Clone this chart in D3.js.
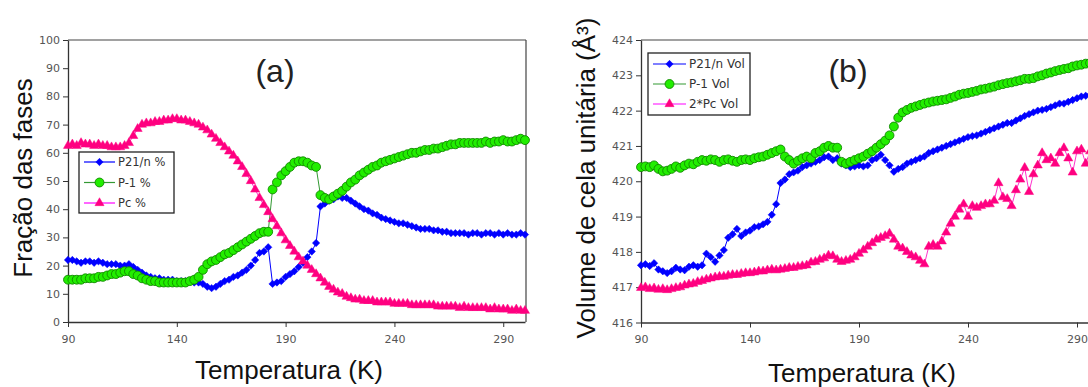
<!DOCTYPE html>
<html>
<head>
<meta charset="utf-8">
<script src="https://cdn.jsdelivr.net/npm/d3@7"></script>
<style>
  html, body { margin: 0; padding: 0; background: #fff; }
  svg { display: block; }
</style>
</head>
<body>
<div id="chart"></div>
<script>
// temperatures (K), shared by both panels
const temps = [
  90, 92, 94, 96, 98, 100, 102, 104, 106, 108,
  110, 112, 114, 116, 118, 120, 122, 124, 126, 128,
  130, 132, 134, 136, 138, 140, 142, 144, 146, 148,
  150, 152, 154, 156, 158, 160, 162, 164, 166, 168,
  170, 172, 174, 176, 178, 180, 182, 184, 186, 188,
  190, 192, 194, 196, 198, 200, 202, 204, 206, 208,
  210, 212, 214, 216, 218, 220, 222, 224, 226, 228,
  230, 232, 234, 236, 238, 240, 242, 244, 246, 248,
  250, 252, 254, 256, 258, 260, 262, 264, 266, 268,
  270, 272, 274, 276, 278, 280, 282, 284, 286, 288,
  290, 292, 294, 296, 298, 300
];

// panel (a) - phase fractions (%)
const p21Pct = [
  22, 22, 21.5, 21, 21.5, 21.5, 21, 21.5, 21, 20.5,
  20.5, 20.5, 20, 20, 20.5, 19.5, 18.5, 17.5, 16.5, 16,
  15.5, 15.5, 15, 15, 15, 14.5, 14.5, 14.5, 14.5, 14,
  14, 13.5, 12.5, 12, 12.5, 13.5, 14.5, 15, 16, 16.5,
  17.5, 18.5, 20, 22, 24.5, 25, 26.5, 13.5, 14, 14.5,
  16, 17, 18, 19.5, 21, 23, 25, 28, 41, 42,
  43, 43.5, 44.5, 44, 44, 43, 42, 41, 40, 39.5,
  38.5, 38, 37, 36.5, 36, 35.5, 35, 35, 34.5, 34,
  33.5, 33, 33, 33, 32.5, 32.5, 32, 32, 31.5, 31.5,
  31.5, 31.5, 31, 31.5, 31.5, 31, 31.5, 31.5, 31, 31.5,
  31, 31.5, 31, 31, 31.5, 31
];
const p1Pct = [
  15, 15, 15, 15, 15.5, 15.5, 15.5, 16, 16, 16.5,
  17, 17, 17.5, 18, 18, 17, 16.5, 15.5, 15, 14.5,
  14.5, 14, 14, 14, 14, 14, 14, 14, 14.5, 15,
  16, 18.5, 20.5, 21.5, 22, 23, 24, 24.5, 25.5, 26.5,
  27.5, 28.5, 29.5, 30.5, 31.5, 32, 32, 47, 49.5, 52,
  53.5, 55, 56.5, 57, 57, 56.5, 55.5, 55, 45, 44,
  43.5, 44.5, 45.5, 46.5, 48, 49.5, 50.5, 52, 53, 54,
  55, 55.5, 56.5, 57, 57.5, 58, 58.5, 59, 59.5, 60,
  60, 60.5, 61, 61, 61.5, 61.5, 62, 62.5, 63, 63,
  63.5, 63.5, 63.5, 63.5, 63.5, 63.5, 64, 63.5, 64, 64,
  64.5, 64, 64, 64.5, 65, 64.5
];
const pcPct = [
  62.5, 63, 62.5, 63.5, 63, 63, 62.5, 63, 62.5, 62.5,
  62, 62, 62, 62.5, 63.5, 66, 68.5, 70, 70.5, 70.5,
  71, 71, 71.5, 71.5, 72, 72, 71.5, 71.5, 71, 70.5,
  70, 69, 68, 66.5, 65, 63.5, 62, 60.5, 59, 57,
  55, 52.5, 50, 47, 44, 41.5, 39, 36.5, 34, 31.5,
  29, 27, 25, 23, 21.5, 20, 18.5, 17, 15.5, 14,
  12.5, 11.5, 10.5, 10, 9, 8.5, 8, 8, 7.5, 7.5,
  7.5, 7, 7, 7, 7, 6.5, 6.5, 6.5, 6.5, 6,
  6, 6, 6, 6, 6, 5.5, 5.5, 5.5, 5.5, 5.5,
  5, 5.5, 5, 5, 5, 5, 5, 4.5, 5, 4.5,
  4.5, 4.5, 4, 4.5, 4, 4
];

// panel (b) - unit cell volume (A^3)
const p21Vol = [
  417.62, 417.65, 417.6, 417.68, 417.5, 417.45, 417.4, 417.45, 417.55, 417.5,
  417.48, 417.58, 417.62, 417.58, 417.62, 417.95, 417.85, 417.72, 417.9, 418.05,
  418.4, 418.5, 418.65, 418.45, 418.55, 418.6, 418.7, 418.72, 418.78, 418.85,
  419.05, 419.35, 419.95, 420.05, 420.2, 420.25, 420.3, 420.4, 420.45, 420.5,
  420.55, 420.6, 420.68, 420.7, 420.6, 420.65, 420.5, 420.45, 420.4, 420.42,
  420.45, 420.42, 420.45, 420.6, 420.65, 420.75, 420.6, 420.45, 420.27, 420.35,
  420.4, 420.5, 420.55, 420.6, 420.65, 420.7, 420.8, 420.85, 420.9, 420.95,
  421.0, 421.05, 421.1, 421.15, 421.2, 421.25, 421.28, 421.3, 421.35, 421.4,
  421.45, 421.5, 421.55, 421.6, 421.65, 421.65, 421.72, 421.78, 421.85, 421.9,
  421.95, 422.0, 422.02, 422.05, 422.1, 422.15, 422.2, 422.2, 422.25, 422.3,
  422.35, 422.4, 422.42, 422.45, 422.5, 422.55
];
const p1Vol = [
  420.4, 420.42, 420.4, 420.45, 420.35, 420.28, 420.3, 420.35, 420.42, 420.38,
  420.45, 420.5, 420.48, 420.55, 420.6, 420.58, 420.62, 420.6, 420.55, 420.6,
  420.62, 420.58, 420.55, 420.6, 420.62, 420.6, 420.65, 420.68, 420.7, 420.75,
  420.8, 420.85, 420.9, 420.7, 420.6, 420.5, 420.58, 420.65, 420.7, 420.65,
  420.8, 420.85, 420.95, 421.0, 420.95, 420.95, 420.55, 420.5, 420.55, 420.6,
  420.65, 420.7, 420.78, 420.85, 420.95, 421.05, 421.15, 421.3, 421.55, 421.8,
  421.95, 422.02, 422.08, 422.12, 422.16, 422.2, 422.23, 422.26, 422.28, 422.3,
  422.32, 422.36, 422.4, 422.45, 422.48, 422.5, 422.53, 422.56, 422.6, 422.62,
  422.65, 422.68, 422.72, 422.75, 422.78, 422.8, 422.83, 422.86, 422.9, 422.9,
  422.92, 422.97, 423.0, 423.05, 423.08, 423.12, 423.15, 423.18, 423.2, 423.25,
  423.28, 423.3, 423.33, 423.35, 423.38, 423.4
];
const pcVol = [
  416.98, 417.0, 416.95, 416.97, 416.93, 416.95, 416.92, 416.95, 416.98, 417.0,
  417.05, 417.08, 417.1, 417.15, 417.18, 417.22, 417.25, 417.28, 417.3, 417.3,
  417.33, 417.35, 417.35, 417.38, 417.4, 417.4, 417.42, 417.45, 417.45, 417.48,
  417.5, 417.48, 417.5, 417.52, 417.55, 417.55, 417.58, 417.6, 417.62, 417.7,
  417.72, 417.78, 417.82, 417.9, 417.88, 417.78, 417.72, 417.75, 417.78, 417.85,
  417.95, 418.05, 418.15, 418.25, 418.35, 418.4, 418.45, 418.52, 418.35, 418.15,
  418.1, 418.0, 417.9, 417.85, 417.75, 417.65, 418.15, 418.2, 418.15, 418.3,
  418.55, 418.8, 419.0, 419.2, 419.35, 419.0, 419.3, 419.25, 419.3, 419.35,
  419.35, 419.45, 419.95, 419.55, 419.5, 419.3, 419.75, 420.05, 420.38, 419.7,
  420.2, 420.45, 420.8, 420.6, 420.65, 420.5, 420.8, 420.94, 420.65, 420.25,
  420.85, 420.9, 420.5, 420.85, 420.7, 420.9
];

const xTicks = [90, 140, 190, 240, 290];
const yTicksA = [0, 10, 20, 30, 40, 50, 60, 70, 80, 90, 100];
const yTicksB = [416, 417, 418, 419, 420, 421, 422, 423, 424];
const namesA = ["P21/n %", "P-1 %", "Pc %"];
const namesB = ["P21/n Vol", "P-1 Vol", "2*Pc Vol"];

const width = 1088, height = 387;
const svg = d3.select("#chart").append("svg")
    .attr("width", width)
    .attr("height", height);

// series look: blue diamonds, green circles, pink triangles
const styles = [
    {line: "#0000ff", fill: "#0000ff", stroke: "#0000ff", shape: "diamond"},
    {line: "#339933", fill: "#22ee00", stroke: "#118800", shape: "circle"},
    {line: "#ff33cc", fill: "#ff0080", stroke: "#ff0080", shape: "triangle"}
];

function markerPath(shape) {
    if (shape === "diamond") return d3.symbol(d3.symbolSquare, 27)();
    if (shape === "circle") return d3.symbol(d3.symbolCircle, 62)();
    return d3.symbol(d3.symbolTriangle, 36)();
}

function drawMarker(g, x, y, st) {
    let p = g.append("path")
        .attr("d", markerPath(st.shape))
        .attr("fill", st.fill)
        .attr("stroke", st.stroke)
        .attr("stroke-width", st.shape === "circle" ? 0.9 : 0.5);
    if (st.shape === "diamond") p.attr("transform", `translate(${x},${y}) rotate(45)`);
    else p.attr("transform", `translate(${x},${y})`);
}

function drawPanel(cfg) {
    const x = d3.scaleLinear().domain([90, 300]).range(cfg.xRange);
    const y = d3.scaleLinear().domain(cfg.yDomain).range([cfg.bottom, cfg.top]);
    const g = svg.append("g");

    // frame (top + right)
    g.append("line")
        .attr("x1", cfg.xRange[0]).attr("x2", cfg.frameRight)
        .attr("y1", cfg.top).attr("y2", cfg.top)
        .attr("stroke", "#444").attr("stroke-width", 1.2);
    if (cfg.frameRight < width) {
        g.append("line")
            .attr("x1", cfg.frameRight).attr("x2", cfg.frameRight)
            .attr("y1", cfg.top).attr("y2", cfg.bottom)
            .attr("stroke", "#444").attr("stroke-width", 1.2);
    }

    const yAxis = g.append("g")
        .attr("transform", `translate(${cfg.xRange[0]},0)`)
        .call(d3.axisLeft(y).tickValues(cfg.yTicks).tickSize(5).tickPadding(3).tickSizeOuter(0));
    const xAxis = g.append("g")
        .attr("transform", `translate(0,${cfg.bottom})`)
        .call(d3.axisBottom(x).tickValues(xTicks).tickSize(5).tickPadding(8).tickSizeOuter(0));
    [xAxis, yAxis].forEach(a => {
        a.select(".domain").attr("stroke", "#333").attr("stroke-width", 1.3);
        a.selectAll(".tick line").attr("stroke", "#333");
        a.selectAll(".tick text")
            .attr("fill", "#555")
            .style("font-family", "'DejaVu Sans', Verdana, sans-serif")
            .style("font-size", "11px");
    });

    const line = d3.line()
        .x((d, i) => x(temps[i]))
        .y(d => y(d));

    cfg.series.forEach((vals, k) => {
        const st = styles[k];
        g.append("path")
            .datum(vals)
            .attr("d", line)
            .attr("fill", "none")
            .attr("stroke", st.line)
            .attr("stroke-width", 1);
        const mg = g.append("g");
        vals.forEach((v, i) => drawMarker(mg, x(temps[i]), y(v), st));
    });

    // legend
    const lg = g.append("g");
    lg.append("rect")
        .attr("x", cfg.legend.x).attr("y", cfg.legend.y)
        .attr("width", cfg.legend.w).attr("height", cfg.legend.h)
        .attr("fill", "#fff").attr("stroke", "#222").attr("stroke-width", 1.3);
    cfg.names.forEach((name, k) => {
        const st = styles[k];
        const ly = cfg.legend.y + cfg.legend.first + k * cfg.legend.step;
        const lx = cfg.legend.x + 5;
        lg.append("line")
            .attr("x1", lx).attr("x2", lx + cfg.legend.len)
            .attr("y1", ly).attr("y2", ly)
            .attr("stroke", k === 2 ? "#ff00ff" : st.line).attr("stroke-width", 1.2);
        drawMarker(lg, lx + cfg.legend.len / 2, ly, st);
        lg.append("text")
            .attr("x", lx + cfg.legend.len + 3)
            .attr("y", ly + 4)
            .attr("fill", "#333")
            .style("font-family", "'DejaVu Sans', Verdana, sans-serif")
            .style("font-size", cfg.legend.font + "px")
            .text(name);
    });

    // panel letter
    g.append("text")
        .attr("x", cfg.letter.x).attr("y", cfg.letter.y)
        .attr("text-anchor", "middle")
        .attr("fill", "#222")
        .style("font-family", "'Liberation Sans', Arial, sans-serif")
        .style("font-size", "32px")
        .text(cfg.letter.text);

    // axis titles
    g.append("text")
        .attr("x", cfg.xTitle.x).attr("y", cfg.xTitle.y)
        .attr("text-anchor", "middle")
        .attr("fill", "#111")
        .style("font-family", "'Liberation Sans', Arial, sans-serif")
        .style("font-size", "26px")
        .text("Temperatura (K)");
    g.append("text")
        .attr("transform", `translate(${cfg.yTitle.x},${cfg.yTitle.y}) rotate(-90)`)
        .attr("text-anchor", "middle")
        .attr("fill", "#111")
        .style("font-family", "'Liberation Sans', Arial, sans-serif")
        .style("font-size", "26px")
        .text(cfg.yTitle.text);
}

drawPanel({
    xRange: [68, 525], frameRight: 526,
    top: 40, bottom: 322,
    yDomain: [0, 100], yTicks: yTicksA,
    series: [p21Pct, p1Pct, pcPct], names: namesA,
    legend: {x: 79, y: 152, w: 95, h: 61, first: 10, step: 20.5, len: 31, font: 11.5},
    letter: {x: 275, y: 82, text: "(a)"},
    xTitle: {x: 289, y: 379},
    yTitle: {x: 32, y: 178, text: "Fração das fases"}
});

drawPanel({
    xRange: [641, 1098.8], frameRight: 1100,
    top: 40, bottom: 322.5,
    yDomain: [416, 424], yTicks: yTicksB,
    series: [p21Vol, p1Vol, pcVol], names: namesB,
    legend: {x: 648, y: 53, w: 102, h: 62, first: 11, step: 20, len: 33, font: 12},
    letter: {x: 848, y: 82, text: "(b)"},
    xTitle: {x: 862, y: 382},
    yTitle: {x: 595, y: 178, text: "Volume de cela unitária (Å³)"}
});
</script>
</body>
</html>
